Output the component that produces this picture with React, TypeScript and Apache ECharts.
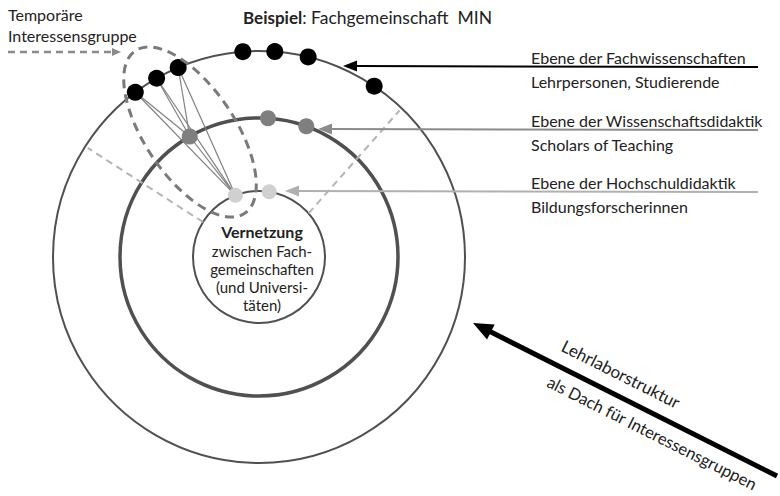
import React, { useEffect, useRef } from "react";
import * as echarts from "echarts";

// ---- Diagram data ----
const RING_NAMES = ["Fachwissenschaften", "Wissenschaftsdidaktik", "Hochschuldidaktik"];
const RING_RADII = [206, 139, 66];
const OUTER_DOT_ANGLES = [126.9, 119.8, 113.1, 94.5, 85.6, 76.2, 56];
const MIDDLE_DOT_ANGLES = [119.9, 86.3, 70.1];
const INNER_DOT_ANGLES = [110.9, 81.1];
const GROUP_OUTER_DOTS = [0, 1, 2];
const GROUP_MIDDLE_DOT = 0;
const GROUP_INNER_DOT = 0;
const DASHED_SPOKES = [
  [148, 147.5],
  [41.3, 46.2],
];
const LEVEL_TITLES = [
  "Ebene der Fachwissenschaften",
  "Ebene der Wissenschaftsdidaktik",
  "Ebene der Hochschuldidaktik",
];
const LEVEL_ACTORS = ["Lehrpersonen, Studierende", "Scholars of Teaching", "Bildungsforscherinnen"];
const CENTER_LINES = ["zwischen Fach-", "gemeinschaften", "(und Universi-", "täten)"];

const CENTER: [number, number] = [259, 257];
const FONT = "Lato, 'Open Sans', sans-serif";
const TXT = "#222222";

function arrow(
  x1: number, y1: number, x2: number, y2: number,
  color: string, width: number, headLen: number, headW: number, dash?: number[]
) {
  const dx = x2 - x1, dy = y2 - y1;
  const len = Math.sqrt(dx * dx + dy * dy);
  const ux = dx / len, uy = dy / len;
  const bx = x2 - ux * headLen, by = y2 - uy * headLen;
  const nx = -uy, ny = ux;
  return [
    {
      type: "line",
      shape: { x1, y1, x2: bx + ux * 1, y2: by + uy * 1 },
      style: { stroke: color, lineWidth: width, lineDash: dash || null },
      z: 20,
    },
    {
      type: "polygon",
      shape: {
        points: [
          [x2, y2],
          [bx + (nx * headW) / 2, by + (ny * headW) / 2],
          [bx - (nx * headW) / 2, by - (ny * headW) / 2],
        ],
      },
      style: { fill: color },
      z: 20,
    },
  ];
}

function txt(text: string, x: number, y: number, size = 14, extra: any = {}) {
  return {
    type: "text",
    x,
    y,
    z: 30,
    style: {
      text,
      font: `${size}px ${FONT}`,
      fill: TXT,
      align: "left",
      verticalAlign: "middle",
      ...extra,
    },
  };
}

export default function App() {
  const ref = useRef<HTMLDivElement>(null);
  useEffect(() => {
    if (!ref.current) return;
    const chart = echarts.init(ref.current, null, { renderer: "svg" });
    const outerR = RING_RADII[0];
    const ringColors = ["#000000", "#7f7f7f", "#d0d0d0"];
    const ringWidths = [2, 3.5, 2];
    const dotSizes = [17, 16, 15];

    const polar = RING_RADII.map((r) => ({ center: CENTER, radius: r }));
    const angleAxis = RING_RADII.map((r, i) => ({
      polarIndex: i,
      type: "value",
      min: 0,
      max: 360,
      startAngle: 0,
      clockwise: false,
      axisLine: { show: true, lineStyle: { color: "#505050", width: ringWidths[i] } },
      axisTick: { show: false },
      axisLabel: { show: false },
      splitLine: { show: false },
    }));
    const radiusAxis = RING_RADII.map((r, i) => ({
      polarIndex: i,
      type: "value",
      min: 0,
      max: r,
      show: false,
      splitLine: { show: false },
    }));

    const dotSets = [OUTER_DOT_ANGLES, MIDDLE_DOT_ANGLES, INNER_DOT_ANGLES];
    const series: any[] = [];

    DASHED_SPOKES.forEach((s, k) => {
      series.push({
        type: "line",
        name: "spoke" + k,
        coordinateSystem: "polar",
        polarIndex: 0,
        data: [
          [RING_RADII[2], s[0]],
          [outerR - 3, s[1]],
        ],
        symbol: "none",
        lineStyle: { color: "#b4b4b4", width: 2, type: [7, 5] },
        z: 1,
      });
    });

    const mid = [RING_RADII[1], MIDDLE_DOT_ANGLES[GROUP_MIDDLE_DOT]];
    const inn = [RING_RADII[2], INNER_DOT_ANGLES[GROUP_INNER_DOT]];
    GROUP_OUTER_DOTS.forEach((idx, k) => {
      const o = [RING_RADII[0], OUTER_DOT_ANGLES[idx]];
      [mid, inn].forEach((t, j) => {
        series.push({
          type: "line",
          name: "conn" + k + "_" + j,
          coordinateSystem: "polar",
          polarIndex: 0,
          data: [o, t],
          symbol: "none",
          lineStyle: { color: "#808080", width: 1.2 },
          z: 2,
        });
      });
    });
    series.push({
      type: "line",
      name: "conn_mid_inner",
      coordinateSystem: "polar",
      polarIndex: 0,
      data: [mid, inn],
      symbol: "none",
      lineStyle: { color: "#808080", width: 1.2 },
      z: 2,
    });

    dotSets.forEach((angles, i) => {
      series.push({
        type: "scatter",
        name: RING_NAMES[i],
        coordinateSystem: "polar",
        polarIndex: 0,
        data: angles.map((a) => [RING_RADII[i], a]),
        symbol: "circle",
        symbolSize: dotSizes[i],
        itemStyle: { color: ringColors[i], opacity: 1 },
        z: 5,
      });
    });

    const graphic: any[] = [];
    graphic.push({
      type: "ellipse",
      x: 190,
      y: 132,
      rotation: (34 * Math.PI) / 180,
      shape: { cx: 0, cy: 0, rx: 45, ry: 98 },
      style: { fill: "none", stroke: "#7a7a7a", lineWidth: 3, lineDash: [9, 6] },
      z: 15,
    });

    graphic.push(txt("Temporäre", 8, 14, 16));
    graphic.push(txt("Interessensgruppe", 8, 35, 16));
    graphic.push(...arrow(8, 52, 121, 52, "#8a8a8a", 2.5, 9, 8, [7, 5]));

    graphic.push({
      type: "text",
      x: 243,
      y: 17,
      z: 30,
      style: {
        text: "{b|Beispiel}: Fachgemeinschaft  MIN",
        font: `17.5px ${FONT}`,
        fill: TXT,
        align: "left",
        verticalAlign: "middle",
        rich: { b: { fontWeight: "bold", fontSize: 17, fontFamily: FONT, fill: TXT } },
      },
    });

    const levelY = [67, 130, 192];
    const tipX = [343, 318, 285];
    const arrowColors = ["#000000", "#8c8c8c", "#b0b0b0"];
    levelY.forEach((y, i) => {
      graphic.push(...arrow(758, y, tipX[i], y - 1, arrowColors[i], 2, 14, 11));
      graphic.push(txt(LEVEL_TITLES[i], 531, y - 10, 16));
      graphic.push(txt(LEVEL_ACTORS[i], 531, y + 14, 16));
    });

    graphic.push({
      type: "text",
      x: 262,
      y: 231,
      z: 30,
      style: {
        text: "Vernetzung",
        font: `bold 16px ${FONT}`,
        fill: TXT,
        align: "center",
        verticalAlign: "middle",
      },
    });
    CENTER_LINES.forEach((t, i) => {
      graphic.push(txt(t, 262, 251 + i * 18, 15, { align: "center" }));
    });

    const tail: [number, number] = [777, 476];
    const tip: [number, number] = [473, 323];
    graphic.push(...arrow(tail[0], tail[1], tip[0], tip[1], "#000000", 5, 20, 17));
    const ang = -Math.atan2(tail[1] - tip[1], tail[0] - tip[0]);
    graphic.push({
      type: "text",
      x: 621,
      y: 374,
      rotation: ang,
      z: 30,
      style: {
        text: "Lehrlaborstruktur",
        font: `17px ${FONT}`,
        fill: TXT,
        align: "center",
        verticalAlign: "middle",
      },
    });
    graphic.push({
      type: "text",
      x: 652,
      y: 433,
      rotation: ang,
      z: 30,
      style: {
        text: "als Dach für Interessensgruppen",
        font: `16.5px ${FONT}`,
        fill: TXT,
        align: "center",
        verticalAlign: "middle",
      },
    });

    chart.setOption({
      animation: false,
      backgroundColor: "#ffffff",
      polar,
      angleAxis,
      radiusAxis,
      series,
      graphic,
    });
    return () => chart.dispose();
  }, []);
  return <div ref={ref} style={{ width: 780, height: 496, position: "absolute", left: 0, top: 0 }} />;
}
